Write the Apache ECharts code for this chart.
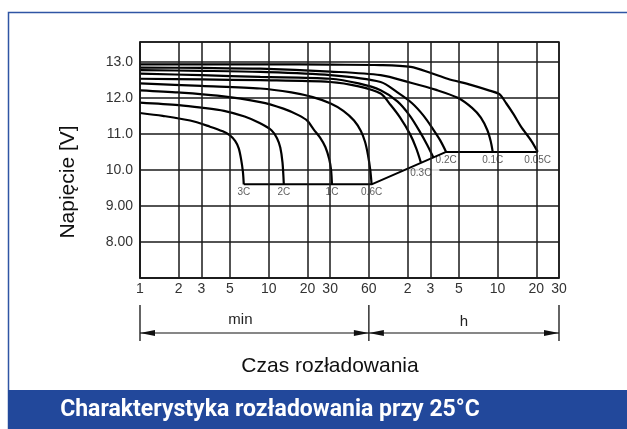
<!DOCTYPE html>
<html>
<head>
<meta charset="utf-8">
<script src="https://cdn.jsdelivr.net/npm/echarts@6/dist/echarts.min.js"></script>
<style>
html, body { margin: 0; padding: 0; background: #fff; }
#chart { width: 627px; height: 429px; }
</style>
</head>
<body>
<div id="chart"></div>
<script>
// czas w minutach (oś logarytmiczna), napięcie w V
const xGridValues = [1, 2, 3, 5, 10, 20, 30, 60, 120, 180, 300, 600, 1200, 1800];
const xGridLabels = ['1', '2', '3', '5', '10', '20', '30', '60', '2', '3', '5', '10', '20', '30'];

// '' = krzywa bez opisu
const curveNames = ['3C', '2C', '1C', '0.6C', '0.3C', '', '0.2C', '0.1C', '0.05C'];

const curve3C = [[1, 11.58], [1.5, 11.5], [2.45, 11.37], [3.5, 11.2], [4.4, 11.07], [5.0, 10.96], [5.5, 10.8], [5.85, 10.6], [6.1, 10.3], [6.3, 9.95], [6.4, 9.6]];
const curve2C = [[1, 11.87], [2, 11.8], [3, 11.73], [4.5, 11.64], [6.5, 11.48], [8.5, 11.3], [10.5, 11.1], [11.6, 10.88], [12.3, 10.62], [12.8, 10.2], [13.1, 9.6]];
const curve1C = [[1, 12.21], [2, 12.15], [4, 12.06], [8.6, 11.88], [13, 11.7], [17, 11.52], [20, 11.36], [22.4, 11.12], [25, 10.9], [27.6, 10.63], [29.5, 10.3], [30.5, 10.0], [31, 9.6]];
const curve06C = [[1, 12.4], [3, 12.33], [8.6, 12.26], [15, 12.15], [22, 12.02], [30, 11.85], [38, 11.64], [46, 11.37], [52, 11.08], [56, 10.78], [59, 10.42], [61.5, 10.0], [63, 9.6]];
const curve03C = [[1, 12.53], [3, 12.51], [8.6, 12.49], [30, 12.44], [50, 12.32], [74, 12.12], [88.6, 11.8], [105, 11.45], [125, 11.0], [140, 10.6], [152, 10.21]];
const curveMid = [[1, 12.67], [3, 12.63], [8.6, 12.58], [30, 12.53], [50, 12.4], [74, 12.21], [100, 11.9], [125, 11.5], [150, 11.05], [170, 10.7], [190, 10.35]];
const curve02C = [[1, 12.77], [3, 12.75], [8.6, 12.72], [30, 12.63], [74, 12.44], [100, 12.15], [130, 11.85], [160, 11.5], [190, 11.12], [215, 10.82], [239, 10.5]];
const curve01C = [[1, 12.84], [3, 12.83], [8.6, 12.81], [30, 12.73], [74, 12.63], [127, 12.42], [200, 12.22], [294, 12.0], [380, 11.72], [445, 11.45], [500, 11.1], [530, 10.8], [550, 10.5]];
const curve005C = [[1, 12.93], [3, 12.93], [10, 12.93], [30, 12.92], [74, 12.91], [127, 12.86], [182, 12.69], [245, 12.53], [372, 12.36], [520, 12.2], [620, 12.1], [700, 11.85], [800, 11.54], [912, 11.2], [1100, 10.8], [1230, 10.5]];

const curves = [curve3C, curve2C, curve1C, curve06C, curve03C, curveMid, curve02C, curve01C, curve005C];

// napięcie końcowe
const cutoffLine = [[6.4, 9.6], [63, 9.6], [239, 10.5], [1230, 10.5]];

const chart = echarts.init(document.getElementById('chart'));
const font = 'Liberation Sans, Arial, sans-serif';

const curveSeries = curves.map(function (d, i) {
    return {
        name: curveNames[i] || 'mid',
        type: 'line',
        data: d,
        z: 4,
        smooth: 0.3,
        showSymbol: false,
        silent: true,
        lineStyle: { color: '#000', width: 2.2 }
    };
});

const endLabels = [];
curves.forEach(function (d, i) {
    if (!curveNames[i]) return;
    endLabels.push({
        name: curveNames[i],
        value: d[d.length - 1],
        label: curveNames[i] === '0.3C' ? { padding: [5, 8, 5, 8] } : {}
    });
});

chart.setOption({
    animation: false,
    backgroundColor: '#fff',
    grid: {
        left: 140, top: 42, width: 419, height: 236,
        show: true, borderColor: '#1a1a1a', borderWidth: 1.5
    },
    xAxis: {
        type: 'log',
        logBase: 10,
        min: 1,
        max: 1800,
        axisLine: { show: true, lineStyle: { color: '#1a1a1a', width: 1.5 } },
        axisTick: { show: false },
        axisLabel: { show: false },
        splitLine: { show: false }
    },
    yAxis: {
        type: 'value',
        min: 7,
        max: 13.55,
        interval: 1,
        axisLine: { show: true, lineStyle: { color: '#1a1a1a', width: 1.5 } },
        axisTick: { show: false },
        axisLabel: {
            margin: 7,
            fontSize: 14,
            fontFamily: font,
            color: '#333',
            formatter: function (v) {
                if (v === 7 || v % 1 !== 0) return '';
                return v >= 10 ? v.toFixed(1) : v.toFixed(2);
            }
        },
        splitLine: { show: true, lineStyle: { color: '#1a1a1a', width: 1.5 } }
    },
    series: [
        {
            // siatka pionowa + opisy osi X
            type: 'line',
            data: [],
            z: 1,
            silent: true,
            markLine: {
                silent: true,
                symbol: 'none',
                animation: false,
                lineStyle: { color: '#1a1a1a', width: 1.5, type: 'solid' },
                label: {
                    show: true,
                    position: 'start',
                    distance: 4,
                    fontSize: 14,
                    fontFamily: font,
                    color: '#333',
                    formatter: function (p) {
                        return xGridLabels[xGridValues.indexOf(p.value)];
                    }
                },
                data: xGridValues.map(function (v) { return { xAxis: v }; })
            }
        },
        {
            type: 'scatter',
            data: endLabels,
            z: 2,
            symbolSize: 0,
            silent: true,
            label: {
                show: true,
                position: 'bottom',
                distance: 1,
                formatter: '{b}',
                fontSize: 10,
                fontFamily: font,
                color: '#333',
                backgroundColor: '#fff',
                padding: [2, 2, 1, 2]
            }
        },
        {
            name: 'cutoff',
            type: 'line',
            data: cutoffLine,
            z: 3,
            showSymbol: false,
            silent: true,
            lineStyle: { color: '#000', width: 2 }
        }
    ].concat(curveSeries)
});

// skala czasu pod wykresem
const px = function (v) { return chart.convertToPixel({ xAxisIndex: 0 }, v); };
const xa = px(1), xb = px(60), xc = px(1800);
const yDim = 333, al = 15, aw = 3;
function arrow(tipX, dir) {
    return {
        type: 'polygon',
        shape: { points: [[tipX, yDim], [tipX + dir * al, yDim - aw], [tipX + dir * al, yDim + aw]] },
        style: { fill: '#111' }
    };
}
const dims = [
    { type: 'line', shape: { x1: xa, y1: 305, x2: xa, y2: 341 }, style: { stroke: '#111', lineWidth: 1.3 } },
    { type: 'line', shape: { x1: xb, y1: 305, x2: xb, y2: 341 }, style: { stroke: '#111', lineWidth: 1.3 } },
    { type: 'line', shape: { x1: xc, y1: 305, x2: xc, y2: 341 }, style: { stroke: '#111', lineWidth: 1.3 } },
    { type: 'line', shape: { x1: xa, y1: yDim, x2: xc, y2: yDim }, style: { stroke: '#111', lineWidth: 1.2 } },
    arrow(xa, 1), arrow(xb, -1), arrow(xb, 1), arrow(xc, -1),
    { type: 'text', x: (xa + xb) / 2 - 14, y: 320, style: { text: 'min', fontSize: 15, fontFamily: font, fill: '#222', align: 'center', verticalAlign: 'middle' } },
    { type: 'text', x: (xb + xc) / 2, y: 322, style: { text: 'h', fontSize: 15, fontFamily: font, fill: '#222', align: 'center', verticalAlign: 'middle' } }
];

chart.setOption({
    graphic: [
        { type: 'rect', shape: { x: 8.5, y: 12.5, width: 700, height: 500 }, style: { fill: 'none', stroke: '#2f55a4', lineWidth: 1.5 }, z: -1 },
        { type: 'rect', shape: { x: 8, y: 390, width: 700, height: 60 }, style: { fill: '#22489b' } },
        { type: 'text', x: 270, y: 410, style: { text: 'Charakterystyka rozładowania przy 25°C', fontSize: 23, fontWeight: 'bold', fontFamily: 'Roboto, sans-serif', fill: '#fff', align: 'center', verticalAlign: 'middle' } },
        { type: 'text', x: 330, y: 366, style: { text: 'Czas rozładowania', fontSize: 21, fontFamily: font, fill: '#111', align: 'center', verticalAlign: 'middle' } },
        { type: 'text', x: 68, y: 182, rotation: Math.PI / 2, style: { text: 'Napięcie [V]', fontSize: 21, fontFamily: font, fill: '#111', align: 'center', verticalAlign: 'middle' } }
    ].concat(dims)
});
</script>
</body>
</html>
